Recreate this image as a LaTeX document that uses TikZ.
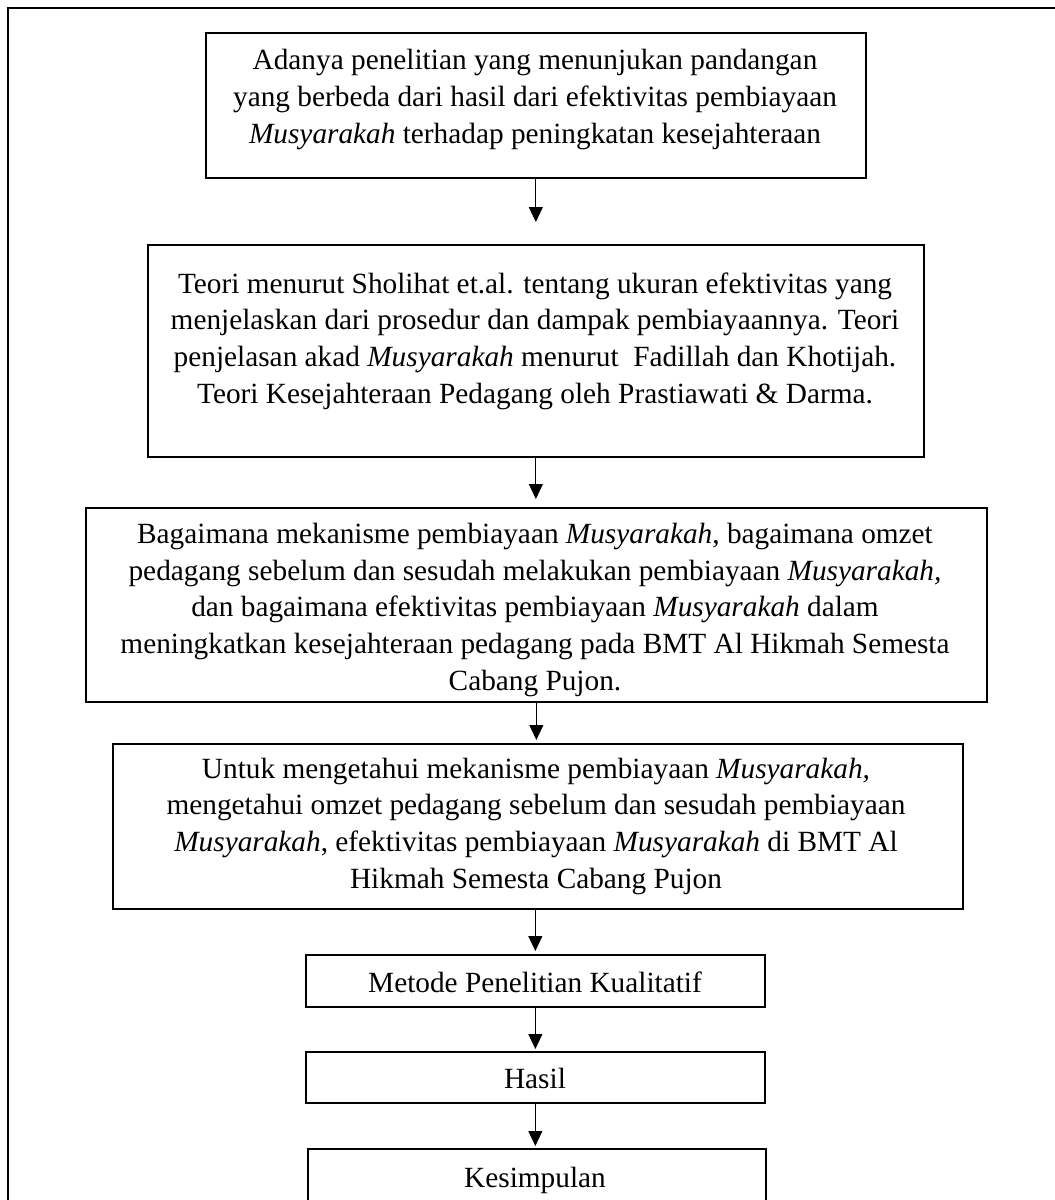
\documentclass[tikz,border=0pt]{standalone}
\usepackage{fontspec}
\setmainfont{Liberation Serif}
\usetikzlibrary{arrows.meta}
\begin{document}
\begin{tikzpicture}[x=1pt,y=-1pt,
  boxnode/.style={draw=black, line width=1.7pt, rectangle, inner sep=0pt, anchor=north west},
  txt/.style={font=\fontsize{29.3}{36.6}\selectfont, align=center, anchor=base, inner sep=0pt},
  flow/.style={draw=black, line width=0.9pt, -{Triangle[width=14pt,length=15pt]}}
]
\useasboundingbox (0,0) rectangle (1055,1200);
\clip (0,0) rectangle (1055,1200);
\fill[white] (0,0) rectangle (1055,1200);
% outer frame (right and bottom sides lie outside the picture)
\draw[line width=2pt] (8,8) rectangle (1075,1220);

% boxes
\node[boxnode, minimum width=660pt, minimum height=145pt] (b1) at (205,32) {};
\node[boxnode, minimum width=776pt, minimum height=212pt] (b2) at (147,244) {};
\node[boxnode, minimum width=901pt, minimum height=194pt] (b3) at (85,507) {};
\node[boxnode, minimum width=850pt, minimum height=165pt] (b4) at (112,743) {};
\node[boxnode, minimum width=459pt, minimum height=52pt] (b5) at (305,954) {};
\node[boxnode, minimum width=459pt, minimum height=51pt] (b6) at (305,1051) {};
\node[boxnode, minimum width=458pt, minimum height=75pt] (b7) at (307,1148) {};

% texts (base anchor = baseline of the last line)
\node[txt] (t1) at (535,143) {Adanya penelitian yang menunjukan pandangan\\
yang berbeda dari hasil dari efektivitas pembiayaan\\
\textit{Musyarakah} terhadap peningkatan kesejahteraan};
\node[txt] (t2) at (535,403) {Teori menurut Sholihat et.al. tentang ukuran efektivitas yang\\
menjelaskan dari prosedur dan dampak pembiayaannya. Teori\\
penjelasan akad \textit{Musyarakah} menurut\ \ Fadillah dan Khotijah.\\
Teori Kesejahteraan Pedagang oleh Prastiawati \& Darma.};
\node[txt] (t3) at (535,690) {Bagaimana mekanisme pembiayaan \textit{Musyarakah}, bagaimana omzet\\
pedagang sebelum dan sesudah melakukan pembiayaan \textit{Musyarakah,}\\
dan bagaimana efektivitas pembiayaan \textit{Musyarakah} dalam\\
meningkatkan kesejahteraan pedagang pada BMT Al Hikmah Semesta\\
Cabang Pujon.};
\node[txt] (t4) at (536,888) {Untuk mengetahui mekanisme pembiayaan \textit{Musyarakah,}\\
mengetahui omzet pedagang sebelum dan sesudah pembiayaan\\
\textit{Musyarakah}, efektivitas pembiayaan \textit{Musyarakah} di BMT Al\\
Hikmah Semesta Cabang Pujon};
\node[txt] (t5) at (535,992) {Metode Penelitian Kualitatif};
\node[txt] (t6) at (535,1088) {Hasil};
\node[txt] (t7) at (535,1187) {Kesimpulan};

% connectors
\draw[flow, shorten >=22pt] (b1.south) -- (b1.south |- b2.north);
\draw[flow, shorten >=8pt] (b2.south) -- (b2.south |- b3.north);
\draw[flow, shorten >=3pt] (b3.south) -- (b3.south |- b4.north);
\draw[flow, shorten >=3pt] (b4.south -| b5.north) -- (b5.north);
\draw[flow, shorten >=2pt] (b5.south) -- (b6.north);
\draw[flow, shorten >=2pt] (b6.south) -- (b6.south |- b7.north);
\end{tikzpicture}
\end{document}
